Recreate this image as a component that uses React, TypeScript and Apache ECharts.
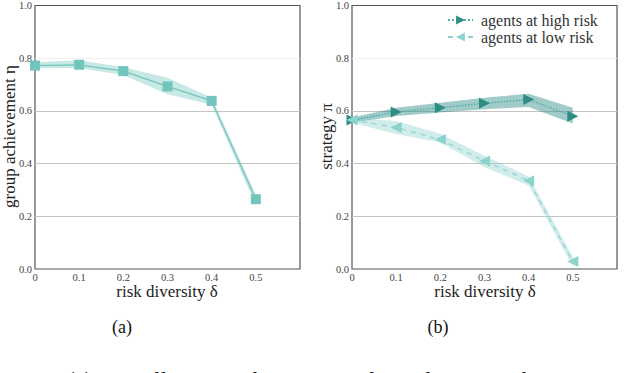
import React, { useEffect, useRef } from "react";
import * as echarts from "echarts";

// risk diversity δ (the axis runs on to 0.6, which carries no label)
const xCategories = ["0", "0.1", "0.2", "0.3", "0.4", "0.5", ""];

const groupMean = [0.772, 0.775, 0.751, 0.693, 0.638, 0.265];
const groupLow = [0.762, 0.763, 0.736, 0.663, 0.623, 0.242];
const groupHigh = [0.785, 0.792, 0.766, 0.726, 0.65, 0.283];

const highMean = [0.565, 0.596, 0.612, 0.629, 0.643, 0.58];
const highLow = [0.555, 0.581, 0.594, 0.606, 0.615, 0.552];
const highHigh = [0.575, 0.612, 0.631, 0.65, 0.665, 0.612];

const lowMean = [0.565, 0.537, 0.491, 0.41, 0.335, 0.028];
const lowLow = [0.555, 0.512, 0.48, 0.386, 0.317, 0.009];
const lowHigh = [0.575, 0.562, 0.513, 0.43, 0.351, 0.046];

const legendNames = ["agents at high risk", "agents at low risk"];

const C_GROUP = "#72c5bd";
const C_HIGH = "#2e8c85";
const C_HIGH_LINE = "#4fb0a8";
const C_LOW = "#8dd3cd";

const FONT = "Liberation Serif";

function band(name: string, idx: number, lo: number[], hi: number[], color: string, opacity: number) {
  return [
    {
      type: "line",
      name: name + "_lo",
      xAxisIndex: idx,
      yAxisIndex: idx,
      stack: name,
      data: lo,
      showSymbol: false,
      symbol: "none",
      lineStyle: { opacity: 0 },
      silent: true,
      z: 1,
    },
    {
      type: "line",
      name: name + "_hi",
      xAxisIndex: idx,
      yAxisIndex: idx,
      stack: name,
      data: hi.map((h, i) => h - lo[i]),
      showSymbol: false,
      symbol: "none",
      lineStyle: { opacity: 0 },
      areaStyle: { color, opacity },
      silent: true,
      z: 1,
    },
  ];
}

const tickFont = { fontFamily: FONT, fontSize: 10.5, color: "#444" };

function xAxis(idx: number) {
  return {
    type: "category",
    gridIndex: idx,
    data: xCategories,
    boundaryGap: false,
    axisLine: { show: false },
    axisTick: { show: false },
    splitLine: { show: false },
    axisLabel: { ...tickFont, margin: 3, interval: 0 },
  };
}

function yAxis(idx: number) {
  return {
    type: "value",
    gridIndex: idx,
    min: 0,
    max: 1,
    interval: 0.2,
    axisLine: { show: false },
    axisTick: { show: false },
    splitLine: {
      show: true,
      lineStyle: {
        color: ["rgba(0,0,0,0)", "#c4c4c4", "#c4c4c4", "#c4c4c4", "#efefef", "rgba(0,0,0,0)"],
        width: 1,
      },
    },
    axisLabel: { ...tickFont, margin: 3, formatter: (v: number) => v.toFixed(1) },
  };
}

export default function App() {
  const ref = useRef<HTMLDivElement>(null);
  useEffect(() => {
    if (!ref.current) return;
    const chart = echarts.init(ref.current, null, { renderer: "svg" });
    const labelFont = { fontFamily: FONT, fontSize: 17, fill: "#222" };
    chart.setOption({
      animation: false,
      backgroundColor: "#ffffff",
      grid: [
        { left: 35, top: 4, width: 265, height: 265, show: true, borderColor: "#555", borderWidth: 1.2, backgroundColor: "transparent" },
        { left: 352, top: 4, width: 265, height: 265, show: true, borderColor: "#555", borderWidth: 1.2, backgroundColor: "transparent" },
      ],
      xAxis: [xAxis(0), xAxis(1)],
      yAxis: [yAxis(0), yAxis(1)],
      legend: {
        data: legendNames,
        orient: "vertical",
        left: 447,
        top: 12,
        itemWidth: 25,
        itemHeight: 11,
        itemGap: 1,
        textStyle: { fontFamily: FONT, fontSize: 16, color: "#333", padding: [0, 0, 0, 3] },
        padding: 0,
      },
      series: [
        ...band("g", 0, groupLow, groupHigh, C_GROUP, 0.4),
        {
          type: "line",
          name: "group",
          xAxisIndex: 0,
          yAxisIndex: 0,
          data: groupMean,
          symbol: "rect",
          symbolSize: 10,
          itemStyle: { color: C_GROUP },
          lineStyle: { color: C_GROUP, width: 1.2 },
          z: 3,
        },
        ...band("h", 1, highLow, highHigh, C_HIGH, 0.45),
        ...band("l", 1, lowLow, lowHigh, C_LOW, 0.4),
        {
          type: "line",
          name: legendNames[0],
          xAxisIndex: 1,
          yAxisIndex: 1,
          data: highMean,
          symbol: "triangle",
          symbolRotate: -90,
          symbolSize: 11,
          itemStyle: { color: C_HIGH },
          lineStyle: { color: C_HIGH_LINE, width: 1.5, type: "dotted" },
          z: 4,
        },
        {
          type: "line",
          name: legendNames[1],
          xAxisIndex: 1,
          yAxisIndex: 1,
          data: lowMean,
          symbol: "triangle",
          symbolRotate: 90,
          symbolSize: 11,
          itemStyle: { color: C_LOW },
          lineStyle: { color: C_LOW, width: 1.2, type: [5, 5] },
          z: 4,
        },
      ],
      graphic: [
        { type: "text", x: 167, y: 291, style: { ...labelFont, text: "risk diversity δ", align: "center", verticalAlign: "middle" } },
        { type: "text", x: 485, y: 291, style: { ...labelFont, text: "risk diversity δ", align: "center", verticalAlign: "middle" } },
        { type: "text", x: 9, y: 136.5, rotation: Math.PI / 2, style: { ...labelFont, text: "group achievement η", align: "center", verticalAlign: "middle" } },
        { type: "text", x: 326, y: 136.5, rotation: Math.PI / 2, style: { ...labelFont, text: "strategy π", align: "center", verticalAlign: "middle" } },
        { type: "text", x: 122, y: 327, style: { fontFamily: FONT, fontSize: 18, fill: "#111", text: "(a)", align: "center", verticalAlign: "middle" } },
        { type: "text", x: 438, y: 327, style: { fontFamily: FONT, fontSize: 18, fill: "#111", text: "(b)", align: "center", verticalAlign: "middle" } },
        { type: "text", x: 26, y: 380, style: { fontFamily: FONT, fontSize: 23, fill: "#111", text: "ing. (a) Overall group achievement of populations with varying", align: "left", verticalAlign: "middle" } },
      ],
    });
    return () => chart.dispose();
  }, []);
  return <div ref={ref} style={{ position: "fixed", left: 0, top: 0, width: 640, height: 373 }} />;
}
